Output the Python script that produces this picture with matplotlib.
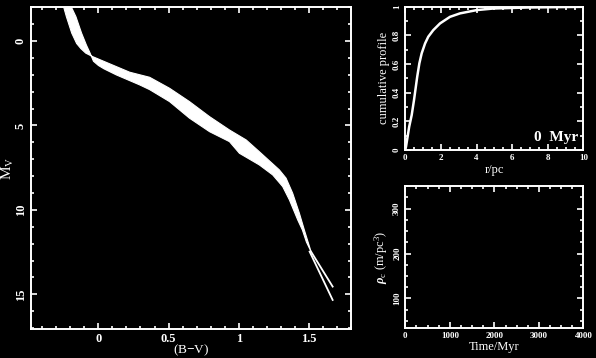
import numpy as np
import matplotlib
matplotlib.use("Agg")
import matplotlib.pyplot as plt
from matplotlib.ticker import MultipleLocator

# colour-magnitude band: upper (binary) edge and lower (single star) edge
bv_upper = [-0.247, -0.228, -0.19, -0.155, -0.125, -0.09, -0.04, 0.08, 0.223,
            0.365, 0.507, 0.649, 0.792, 0.934, 1.053, 1.146, 1.289, 1.337, 1.384,
            1.432, 1.467, 1.489, 1.515]
mv_upper = [-2.0, -1.44, -0.47, 0.15, 0.45, 0.72, 0.93, 1.35, 1.85,
            2.15, 2.80, 3.59, 4.48, 5.27, 5.86, 6.55, 7.63, 8.12, 9.01,
            10.20, 11.18, 11.77, 12.47]
bv_lower = [-0.192, -0.16, -0.12, -0.085, -0.06, -0.035, 0.0, 0.04, 0.128, 0.294,
            0.365, 0.507, 0.649, 0.792, 0.934, 1.005, 1.147, 1.242, 1.313,
            1.361, 1.420, 1.453, 1.482, 1.515]
mv_lower = [-2.0, -1.44, -0.47, 0.25, 0.70, 1.20, 1.45, 1.65, 2.01, 2.60,
            2.88, 3.59, 4.57, 5.37, 5.96, 6.65, 7.34, 7.93, 8.62,
            9.41, 10.59, 11.18, 11.90, 12.47]
# the two faint strands below the split
bv_strand_a = [1.515, 1.669]
mv_strand_a = [12.47, 14.54]
bv_strand_b = [1.505, 1.669]
mv_strand_b = [12.47, 15.33]

# cumulative radial profile
r_pc = [0.0, 0.04, 0.22, 0.36, 0.49, 0.67, 0.79, 0.92, 1.11, 1.29, 1.57, 1.95,
        2.51, 3.07, 4.01, 4.94, 6.82, 10.0]
cum_prof = [0.0, 0.023, 0.163, 0.244, 0.349, 0.512, 0.605, 0.675, 0.744, 0.791,
            0.837, 0.884, 0.930, 0.954, 0.977, 0.988, 0.995, 1.0]

age_label = "0  Myr"

font = "Liberation Serif"
plt.rcParams['font.family'] = [font, 'DejaVu Serif']
plt.rcParams['font.weight'] = 'bold'
plt.rcParams['mathtext.fontset'] = 'custom'
plt.rcParams['mathtext.rm'] = font
plt.rcParams['mathtext.it'] = font + ':italic'
plt.rcParams['mathtext.bf'] = font + ':bold'

fig = plt.figure(figsize=(5.96, 3.58), dpi=100, facecolor='black')


def style(ax, size):
    ax.set_facecolor('black')
    for s in ax.spines.values():
        s.set_color('white')
        s.set_linewidth(1.4)
    ax.tick_params(which='both', direction='in', top=True, right=True,
                   colors='white', width=1.2, labelsize=size, pad=3)
    ax.tick_params(which='major', length=4)
    ax.tick_params(which='minor', length=2)
    for lab in ax.get_yticklabels():
        lab.set_rotation(90)
        lab.set_va('center')


# main CMD
ax1 = fig.add_axes([0.052, 0.081, 0.537, 0.899])
ax1.fill(np.concatenate([bv_upper, bv_lower[::-1]]),
         np.concatenate([mv_upper, mv_lower[::-1]]),
         color='white', lw=0.8, ec='white')
ax1.plot(bv_strand_a, mv_strand_a, color='white', lw=1.3)
ax1.plot(bv_strand_b, mv_strand_b, color='white', lw=1.3)
ax1.set_xlim(-0.48, 1.8)
ax1.set_ylim(17.05, -2.0)
ax1.xaxis.set_major_locator(MultipleLocator(0.5))
ax1.xaxis.set_minor_locator(MultipleLocator(0.1))
ax1.yaxis.set_major_locator(MultipleLocator(5))
ax1.yaxis.set_minor_locator(MultipleLocator(1))
ax1.set_xticks([0, 0.5, 1, 1.5])
ax1.set_xticklabels(['0', '0.5', '1', '1.5'])
style(ax1, 9)
ax1.set_xlabel('(B$-$V)', color='white', fontsize=9.5, labelpad=-2)
ax1.set_ylabel('M$_\\mathregular{V}$', color='white', fontsize=11, labelpad=-1)

# cumulative profile
ax2 = fig.add_axes([0.680, 0.581, 0.299, 0.400])
ax2.plot(r_pc, cum_prof, color='white', lw=1.8)
ax2.set_xlim(0, 10)
ax2.set_ylim(0, 1)
ax2.xaxis.set_major_locator(MultipleLocator(2))
ax2.xaxis.set_minor_locator(MultipleLocator(0.5))
ax2.yaxis.set_major_locator(MultipleLocator(0.2))
ax2.yaxis.set_minor_locator(MultipleLocator(0.1))
ax2.set_yticks([0, 0.2, 0.4, 0.6, 0.8, 1.0])
ax2.set_yticklabels(['0', '0.2', '0.4', '0.6', '0.8', '1'])
style(ax2, 6.5)
ax2.set_xlabel('r/pc', color='white', fontsize=9, labelpad=1)
ax2.set_ylabel('cumulative profile', color='white', fontsize=9, labelpad=2)
ax2.text(9.7, 0.09, age_label, color='white', fontsize=11, ha='right',
         va='center')

# central density vs time
ax3 = fig.add_axes([0.680, 0.0846, 0.299, 0.3955])
ax3.set_xlim(0, 4000)
ax3.set_ylim(35, 350)
ax3.xaxis.set_major_locator(MultipleLocator(1000))
ax3.xaxis.set_minor_locator(MultipleLocator(250))
ax3.yaxis.set_major_locator(MultipleLocator(100))
ax3.yaxis.set_minor_locator(MultipleLocator(25))
style(ax3, 6.5)
ax3.set_xlabel('Time/Myr', color='white', fontsize=9, labelpad=1)
ax3.set_ylabel('$\\rho_\\mathregular{c}$ (m/pc$^\\mathregular{3}$)', color='white',
               fontsize=9, labelpad=2)

fig.savefig('out.png', dpi=100, facecolor='black')
